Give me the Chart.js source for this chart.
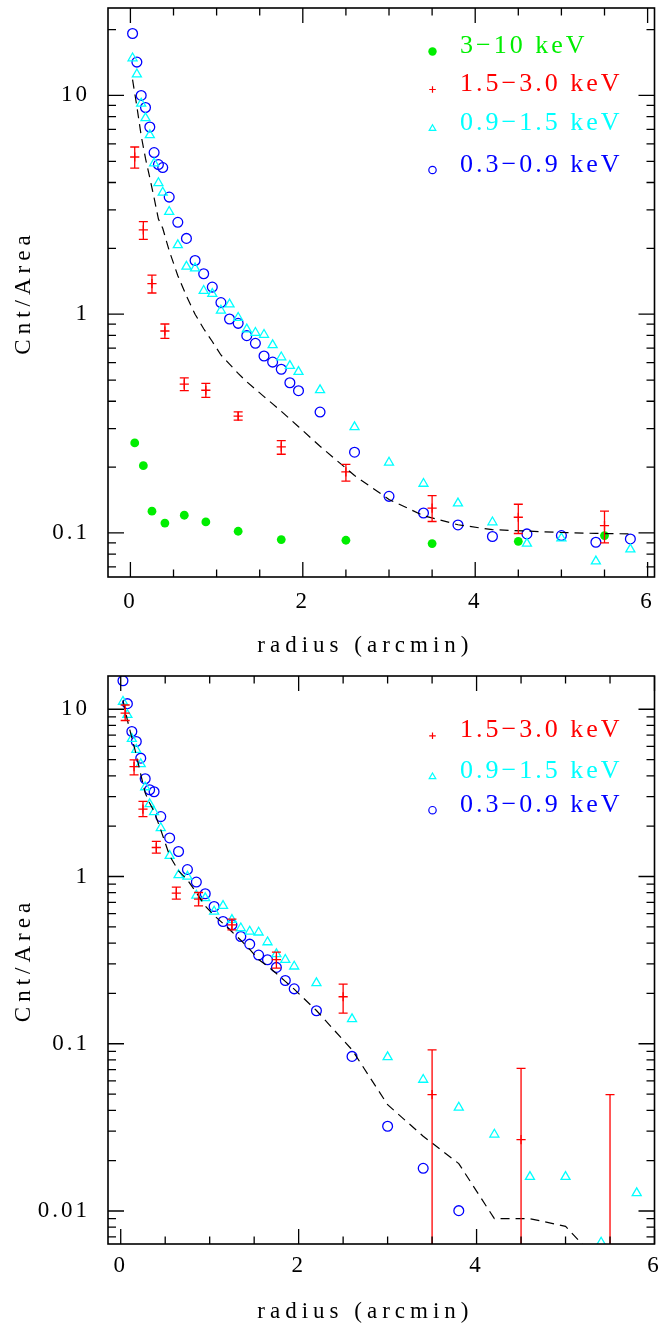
<!DOCTYPE html>
<html>
<head>
<meta charset="utf-8">
<script src="https://cdn.jsdelivr.net/npm/chart.js@4.4.0/dist/chart.umd.min.js"></script>
<style>
  html, body { margin: 0; padding: 0; background: #fff; }
  canvas { display: block; }
</style>
</head>
<body>
<canvas id="c1" width="661" height="662"></canvas>
<canvas id="c2" width="661" height="662"></canvas>
<script>
// bin radii (arcmin)
let fineR = [0.025, 0.075, 0.125, 0.175, 0.225, 0.275, 0.325, 0.375, 0.45, 0.55, 0.65, 0.75, 0.85, 0.95,
  1.05, 1.15, 1.25, 1.35, 1.45, 1.55, 1.65, 1.75, 1.85, 1.95, 2.2, 2.6, 3.0, 3.4, 3.8, 4.2, 4.6, 5.0, 5.4, 5.8];
let coarseR = [0.05, 0.15, 0.25, 0.4, 0.625, 0.875, 1.25, 1.75, 2.5, 3.5, 4.5, 5.5];

let labels = ['3-10 keV', '1.5-3.0 keV', '0.9-1.5 keV', '0.3-0.9 keV'];

// upper panel
let top03 = [19.2, 14.2, 10.0, 8.81, 7.17, 5.48, 4.83, 4.68, 3.43, 2.63, 2.22, 1.76, 1.53, 1.33,
  1.13, 0.951, 0.908, 0.798, 0.736, 0.644, 0.604, 0.560, 0.486, 0.447, 0.357, 0.234, 0.147, 0.1234,
  0.1088, 0.0963, 0.0990, 0.0973, 0.0907, 0.0939];
let top09 = [14.8, 12.5, 9.19, 7.88, 6.59, 4.90, 3.98, 3.60, 2.94, 2.07, 1.65, 1.62, 1.28, 1.24,
  1.04, 1.11, 0.964, 0.853, 0.823, 0.806, 0.723, 0.636, 0.581, 0.545, 0.450, 0.305, 0.210, 0.168,
  0.1367, 0.112, 0.0894, 0.0946, 0.0742, 0.0842];
let top15 = [5.23, 2.43, 1.38, 0.838, 0.479, 0.449, 0.342, 0.2476, 0.190, 0.130, 0.118, 0.108];
let top15lo = [4.65, 2.20, 1.25, 0.776, 0.447, 0.417, 0.328, 0.229, 0.1725, 0.1128, 0.0994, 0.090];
let top15hi = [5.81, 2.65, 1.51, 0.902, 0.512, 0.483, 0.358, 0.264, 0.206, 0.148, 0.1353, 0.1257];
let top3 = [0.258, 0.203, 0.1257, 0.111, 0.1205, 0.1123, 0.1018, 0.0933, 0.0926, 0.0894, 0.0916, 0.0973];
let topModel = [11.8, 8.9, 6.55, 5.15, 4.2, 3.4, 2.72, 2.47, 1.95, 1.50, 1.21, 1.0, 0.858, 0.75,
  0.651, 0.591, 0.536, 0.491, 0.454, 0.420, 0.389, 0.360, 0.332, 0.306, 0.249, 0.183, 0.1423, 0.120,
  0.109, 0.1035, 0.102, 0.1005, 0.0995, 0.099];

// lower panel
let bot03 = [14.8, 10.8, 7.36, 6.41, 5.10, 3.84, 3.30, 3.21, 2.28, 1.70, 1.41, 1.10, 0.926, 0.788,
  0.662, 0.538, 0.514, 0.438, 0.394, 0.339, 0.318, 0.286, 0.239, 0.213, 0.1575, 0.0840, 0.0321, 0.0180,
  0.01005];
let bot09 = [11.1, 9.26, 6.65, 5.72, 4.70, 3.42, 2.71, 2.43, 1.95, 1.33, 1.02, 1.00, 0.770, 0.743,
  0.618, 0.668, 0.551, 0.491, 0.469, 0.463, 0.405, 0.344, 0.318, 0.290, 0.2306, 0.1405, 0.0833, 0.061,
  0.0416, 0.0287, 0.0160, 0.0160, 0.00649, 0.0128];
let bot15 = [9.48, 4.54, 2.53, 1.49, 0.796, 0.733, 0.514, 0.318, 0.191, 0.0496, 0.0267, 0.003];
let bot15lo = [8.56, 4.05, 2.28, 1.38, 0.733, 0.668, 0.480, 0.2835, 0.1526, 0.001, 0.001, 0.001];
let bot15hi = [10.6, 4.98, 2.81, 1.62, 0.864, 0.802, 0.556, 0.353, 0.2275, 0.0919, 0.0712, 0.0496];
let botModel = [11.3, 8.6, 6.75, 5.35, 4.08, 3.16, 2.75, 2.45, 1.9, 1.33, 1.08, 0.955, 0.80, 0.667,
  0.584, 0.524, 0.467, 0.416, 0.367, 0.319, 0.291, 0.263, 0.236, 0.212, 0.158, 0.092, 0.0432, 0.028,
  0.0192, 0.0090, 0.0090, 0.0081, 0.0048, 0.003];

let xTicks = [0, 2, 4, 6];
let yTicksTop = [0.1, 1, 10];
let yTicksBot = [0.01, 0.1, 1, 10];

let xTitle = 'radius (arcmin)';
let yTitle = 'Cnt/Area';

Chart.defaults.font.family = "'Liberation Serif', serif";
Chart.defaults.color = '#000';

function pts(xs, ys) {
    return ys.map((v, i) => ({ x: xs[i], y: v }));
}

// frame, tick marks inside the frame on all four sides, axis titles
let boxTicks = {
    id: 'boxTicks',
    beforeDraw(chart) {
        chart.ctx.letterSpacing = '3px';
    },
    afterDraw(chart, args, opts) {
        let ctx = chart.ctx;
        let a = chart.chartArea;
        let x = chart.scales.x, y = chart.scales.y;
        ctx.save();
        ctx.strokeStyle = '#000';
        ctx.lineWidth = 1.3;
        ctx.beginPath();
        for (let v = 0; v <= x.max + 1e-9; v += 0.5) {
            let px = x.getPixelForValue(v);
            let len = (v % 2 == 0) ? 15 : 7.5;
            ctx.moveTo(px, a.bottom); ctx.lineTo(px, a.bottom - len);
            ctx.moveTo(px, a.top); ctx.lineTo(px, a.top + len);
        }
        let d0 = Math.floor(Math.log10(y.min)), d1 = Math.ceil(Math.log10(y.max));
        for (let d = d0; d <= d1; d++) {
            for (let m = 1; m < 10; m++) {
                let v = m * Math.pow(10, d);
                if (v < y.min || v > y.max) continue;
                let py = y.getPixelForValue(v);
                let len = m == 1 ? 16 : 8;
                ctx.moveTo(a.left, py); ctx.lineTo(a.left + len, py);
                ctx.moveTo(a.right, py); ctx.lineTo(a.right - len, py);
            }
        }
        ctx.stroke();
        ctx.lineWidth = 1.6;
        ctx.strokeRect(a.left, a.top, a.right - a.left, a.bottom - a.top);

        ctx.fillStyle = '#000';
        ctx.font = "23px 'Liberation Serif', serif";
        ctx.letterSpacing = '5px';
        ctx.textAlign = 'center';
        ctx.textBaseline = 'alphabetic';
        ctx.fillText(xTitle, a.left + (a.right - a.left) * 0.471, opts.xTitleBase);
        ctx.translate(29.5, (a.top + a.bottom) / 2);
        ctx.rotate(-Math.PI / 2);
        ctx.fillText(yTitle, 0, 0);
        ctx.restore();
    }
};

// vertical error bars with end caps
let errBars = {
    id: 'errBars',
    afterDatasetsDraw(chart, args, opts) {
        let ctx = chart.ctx;
        let a = chart.chartArea;
        let x = chart.scales.x, y = chart.scales.y;
        ctx.save();
        ctx.beginPath();
        ctx.rect(a.left, a.top, a.right - a.left, a.bottom - a.top);
        ctx.clip();
        ctx.strokeStyle = opts.color;
        ctx.lineWidth = 1.3;
        ctx.beginPath();
        opts.r.forEach((r, i) => {
            let px = x.getPixelForValue(r);
            let lo = y.getPixelForValue(opts.lo[i]);
            let hi = y.getPixelForValue(opts.hi[i]);
            ctx.moveTo(px, lo); ctx.lineTo(px, hi);
            ctx.moveTo(px - 4.5, lo); ctx.lineTo(px + 4.5, lo);
            ctx.moveTo(px - 4.5, hi); ctx.lineTo(px + 4.5, hi);
        });
        ctx.stroke();
        ctx.restore();
    }
};

function drawMarker(ctx, style, x, y, color) {
    ctx.strokeStyle = color;
    ctx.fillStyle = color;
    ctx.lineWidth = 1.2;
    ctx.beginPath();
    if (style == 'dot') {
        ctx.arc(x, y, 4.2, 0, Math.PI * 2);
        ctx.fill();
        return;
    }
    if (style == 'cross') {
        ctx.moveTo(x - 3.3, y); ctx.lineTo(x + 3.3, y);
        ctx.moveTo(x, y - 3.3); ctx.lineTo(x, y + 3.3);
    } else if (style == 'tri') {
        ctx.moveTo(x, y - 3.8); ctx.lineTo(x + 3.3, y + 1.9); ctx.lineTo(x - 3.3, y + 1.9); ctx.closePath();
    } else {
        ctx.arc(x, y, 3.7, 0, Math.PI * 2);
    }
    ctx.stroke();
}

// key in the upper right of the plot
let keyBox = {
    id: 'keyBox',
    afterDraw(chart, args, opts) {
        let ctx = chart.ctx;
        ctx.save();
        ctx.font = "26px 'Liberation Serif', serif";
        ctx.letterSpacing = '3px';
        ctx.textAlign = 'left';
        ctx.textBaseline = 'alphabetic';
        opts.items.forEach((it, i) => {
            let base = opts.base[i];
            drawMarker(ctx, it.style, 432.5, base - 1.5, it.color);
            ctx.fillStyle = it.color;
            ctx.fillText(it.text.replace('-', '\u2212'), 460, base);
        });
        ctx.restore();
    }
};

function makeOpts(xmin, xmax, ymin, ymax, yTicks, padTop, padRight, xBoxH, tickPad) {
    return {
        responsive: false,
        animation: false,
        events: [],
        layout: { padding: { top: padTop, right: padRight, left: 0, bottom: 0 } },
        scales: {
            x: {
                type: 'linear', min: xmin, max: xmax,
                grid: { display: false }, border: { display: false },
                ticks: { font: { size: 23 }, padding: tickPad, maxRotation: 0, autoSkip: false },
                afterBuildTicks: s => { s.ticks = xTicks.map(v => ({ value: v })); },
                afterFit: s => { s.height = xBoxH; s.paddingLeft = 0; s.paddingRight = 0; }
            },
            y: {
                type: 'logarithmic', min: ymin, max: ymax,
                grid: { display: false }, border: { display: false },
                ticks: { font: { size: 23 }, padding: 10, autoSkip: false, callback: v => String(v) },
                afterBuildTicks: s => { s.ticks = yTicks.map(v => ({ value: v })); },
                afterFit: s => { s.width = 108; s.paddingTop = 0; s.paddingBottom = 0; }
            }
        },
        plugins: { legend: { display: false }, tooltip: { enabled: false } }
    };
}

function dsOpen(label, data, color, style, r) {
    return {
        label: label, data: data, pointStyle: style, pointRadius: r,
        borderColor: color, pointBorderColor: color, backgroundColor: 'transparent',
        pointBackgroundColor: 'transparent', pointBorderWidth: 1.3
    };
}

function dsModel(data) {
    return {
        type: 'line', label: 'model', data: data, showLine: true, borderColor: '#000',
        borderWidth: 1.2, borderDash: [9, 6], pointRadius: 0, tension: 0, fill: false
    };
}

// upper chart
let opts1 = makeOpts(-0.26, 6.08, 0.0629, 25.1, yTicksTop, 8, 5, 85, 3);
opts1.plugins.boxTicks = { xTitleBase: 652 };
opts1.plugins.errBars = { r: coarseR, lo: top15lo, hi: top15hi, color: '#ff0000' };
opts1.plugins.keyBox = {
    items: [
        { text: labels[0], color: '#00ee00', style: 'dot' },
        { text: labels[1], color: '#ff0000', style: 'cross' },
        { text: labels[2], color: '#00ffff', style: 'tri' },
        { text: labels[3], color: '#0000ff', style: 'circ' }
    ],
    base: [53, 91, 130, 171.5]
};
let chart1 = new Chart(document.querySelector('#c1'), {
    type: 'scatter',
    data: {
        datasets: [
            dsModel(pts(fineR, topModel)),
            {
                label: labels[0], data: pts(coarseR, top3), pointStyle: 'circle', pointRadius: 4.4,
                pointBackgroundColor: '#00ee00', pointBorderColor: '#00ee00', pointBorderWidth: 0
            },
            dsOpen(labels[1], pts(coarseR, top15), '#ff0000', 'cross', 4.6),
            dsOpen(labels[2], pts(fineR, top09), '#00ffff', 'triangle', 5.2),
            dsOpen(labels[3], pts(fineR, top03), '#0000ff', 'circle', 4.9)
        ]
    },
    options: opts1,
    plugins: [boxTicks, errBars, keyBox]
});

// lower chart
let opts2 = makeOpts(-0.143, 6.0, 0.00635, 15.8, yTicksBot, 14, 6, 80, 0.5);
opts2.plugins.boxTicks = { xTitleBase: 656 };
opts2.plugins.errBars = { r: coarseR, lo: bot15lo, hi: bot15hi, color: '#ff0000' };
opts2.plugins.keyBox = {
    items: [
        { text: labels[1], color: '#ff0000', style: 'cross' },
        { text: labels[2], color: '#00ffff', style: 'tri' },
        { text: labels[3], color: '#0000ff', style: 'circ' }
    ],
    base: [75.3, 116.3, 149.7]
};
let chart2 = new Chart(document.querySelector('#c2'), {
    type: 'scatter',
    data: {
        datasets: [
            dsModel(pts(fineR, botModel)),
            dsOpen(labels[1], pts(coarseR, bot15), '#ff0000', 'cross', 4.6),
            dsOpen(labels[2], pts(fineR, bot09), '#00ffff', 'triangle', 5.2),
            dsOpen(labels[3], pts(fineR, bot03), '#0000ff', 'circle', 4.9)
        ]
    },
    options: opts2,
    plugins: [boxTicks, errBars, keyBox]
});
</script>
</body>
</html>
